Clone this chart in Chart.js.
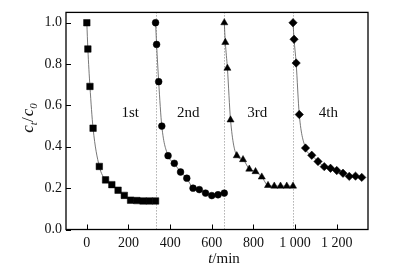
<!DOCTYPE html>
<html>
<head>
<meta charset="utf-8">
<script src="https://cdn.jsdelivr.net/npm/chart.js@4/dist/chart.umd.min.js"></script>
<style>
  html, body { margin: 0; padding: 0; background: #fff; }
  #c { display: block; }
</style>
</head>
<body>
<canvas id="c" width="398" height="277"></canvas>
<script>
// ---- data ----
const t1 = [0, 5, 15, 30, 60, 90, 120, 150, 180, 210, 240, 270, 300, 330];
const c1 = [1.0, 0.873, 0.692, 0.49, 0.305, 0.24, 0.217, 0.19, 0.165, 0.142, 0.14, 0.138, 0.138, 0.138];
const t2 = [330, 335, 345, 360, 390, 420, 450, 480, 510, 540, 570, 600, 630, 660];
const c2 = [1.0, 0.895, 0.715, 0.50, 0.357, 0.32, 0.278, 0.248, 0.20, 0.193, 0.176, 0.164, 0.168, 0.176];
const t3 = [660, 665, 675, 690, 720, 750, 780, 810, 840, 870, 900, 930, 960, 990];
const c3 = [1.0, 0.905, 0.78, 0.53, 0.357, 0.338, 0.292, 0.28, 0.254, 0.213, 0.21, 0.21, 0.21, 0.21];
const t4 = [990, 995, 1005, 1020, 1050, 1080, 1110, 1140, 1170, 1200, 1230, 1260, 1290, 1320];
const c4 = [1.0, 0.92, 0.805, 0.556, 0.394, 0.359, 0.329, 0.304, 0.296, 0.285, 0.272, 0.257, 0.258, 0.252];

const cycleNames = ['1st', '2nd', '3rd', '4th'];
const cycleLabelT = [208, 487, 818, 1160];
const cycleLabelC = [0.565, 0.565, 0.565, 0.565];
const cycleBoundaries = [330, 660, 990];

const xTicks = [0, 200, 400, 600, 800, 1000, 1200];
const yTicks = [0, 0.2, 0.4, 0.6, 0.8, 1.0];

// ---- helpers ----
function pts(ts, cs) { return ts.map((t, i) => ({ x: t, y: cs[i] })); }
function fmtX(v) {
  const s = String(Math.round(v));
  return s.length > 3 ? s.slice(0, s.length - 3) + ' ' + s.slice(-3) : s;
}
const SERIF = '"Liberation Serif", "DejaVu Serif", serif';

function ds(ts, cs, style, r) {
  return {
    data: pts(ts, cs),
    showLine: true,
    borderColor: '#555',
    borderWidth: 0.8,
    cubicInterpolationMode: 'monotone',
    pointStyle: style,
    pointRadius: r,
    pointBackgroundColor: '#000',
    pointBorderColor: '#000',
    pointBorderWidth: 0.5,
    fill: false
  };
}

const decorPlugin = {
  id: 'decor',
  beforeDatasetsDraw(chart) {
    const { ctx, chartArea: a, scales: { x, y } } = chart;
    ctx.save();
    ctx.strokeStyle = '#888';
    ctx.lineWidth = 1;
    ctx.setLineDash([1, 2]);
    cycleBoundaries.forEach(b => {
      const px = Math.round(x.getPixelForValue(b)) + 0.5;
      ctx.beginPath();
      ctx.moveTo(px, a.top);
      ctx.lineTo(px, a.bottom);
      ctx.stroke();
    });
    ctx.restore();
  },
  afterDraw(chart) {
    const { ctx, chartArea: a, scales: { x, y } } = chart;
    ctx.save();
    // frame
    ctx.strokeStyle = '#000';
    ctx.lineWidth = 1.3;
    ctx.strokeRect(a.left, a.top, a.right - a.left, a.bottom - a.top);
    // inward ticks
    ctx.lineWidth = 1;
    xTicks.forEach(v => {
      const px = Math.round(x.getPixelForValue(v)) + 0.5;
      ctx.beginPath(); ctx.moveTo(px, a.bottom); ctx.lineTo(px, a.bottom - 5); ctx.stroke();
    });
    yTicks.forEach(v => {
      const py = Math.round(y.getPixelForValue(v)) + 0.5;
      ctx.beginPath(); ctx.moveTo(a.left, py); ctx.lineTo(a.left + 5, py); ctx.stroke();
    });
    // cycle labels
    ctx.fillStyle = '#111';
    ctx.font = '15px ' + SERIF;
    ctx.textAlign = 'center';
    ctx.textBaseline = 'middle';
    cycleNames.forEach((n, i) => {
      ctx.fillText(n, x.getPixelForValue(cycleLabelT[i]), y.getPixelForValue(cycleLabelC[i]));
    });
    // x title: t/min
    const parts = [
      { s: 't', f: 'italic 15px ' + SERIF },
      { s: '/min', f: '15px ' + SERIF }
    ];
    let w = 0;
    parts.forEach(p => { ctx.font = p.f; p.w = ctx.measureText(p.s).width; w += p.w; });
    let cx = (a.left + a.right) / 2 + 7 - w / 2;
    ctx.textAlign = 'left';
    ctx.textBaseline = 'alphabetic';
    parts.forEach(p => { ctx.font = p.f; ctx.fillText(p.s, cx, 263); cx += p.w; });
    // y title: c_t / c_0 rotated
    const yp = [
      { s: 'c', f: 'italic 17px ' + SERIF, dy: 0 },
      { s: 't', f: 'italic 11px ' + SERIF, dy: 4 },
      { s: '/', f: '17px ' + SERIF, dy: 0 },
      { s: 'c', f: 'italic 17px ' + SERIF, dy: 0 },
      { s: '0', f: 'italic 11px ' + SERIF, dy: 4 }
    ];
    let yw = 0;
    yp.forEach(p => { ctx.font = p.f; p.w = ctx.measureText(p.s).width + (p.s === '/' ? 1 : 0); yw += p.w; });
    ctx.translate(33, 118);
    ctx.rotate(-Math.PI / 2);
    let yx = -yw / 2;
    yp.forEach(p => { ctx.font = p.f; ctx.fillText(p.s, yx, p.dy); yx += p.w; });
    ctx.restore();
  }
};

new Chart(document.getElementById('c'), {
  type: 'line',
  data: {
    datasets: [
      ds(t1, c1, 'rect', 4.6),
      ds(t2, c2, 'circle', 3.4),
      ds(t3, c3, 'triangle', 4.1),
      ds(t4, c4, 'rectRot', 4.2)
    ]
  },
  options: {
    responsive: false,
    devicePixelRatio: 1,
    animation: false,
    layout: { padding: { top: 7, right: 30, left: 0, bottom: 0 } },
    plugins: { legend: { display: false }, tooltip: { enabled: false } },
    scales: {
      x: {
        type: 'linear',
        min: -100,
        max: 1350,
        afterBuildTicks: s => { s.ticks = xTicks.map(v => ({ value: v })); },
        afterFit: s => { s.height = 47.5; },
        grid: { display: false, drawTicks: false },
        border: { display: false },
        ticks: {
          padding: 5,
          color: '#111',
          font: { family: SERIF, size: 14 },
          maxRotation: 0,
          callback: v => fmtX(v)
        }
      },
      y: {
        type: 'linear',
        min: 0,
        max: 1.05,
        afterBuildTicks: s => { s.ticks = yTicks.map(v => ({ value: v })); },
        afterFit: s => { s.width = 66; },
        grid: { display: false, drawTicks: false },
        border: { display: false },
        ticks: {
          padding: 4,
          color: '#111',
          font: { family: SERIF, size: 14 },
          callback: v => v.toFixed(1)
        }
      }
    }
  },
  plugins: [decorPlugin]
});
</script>
</body>
</html>
